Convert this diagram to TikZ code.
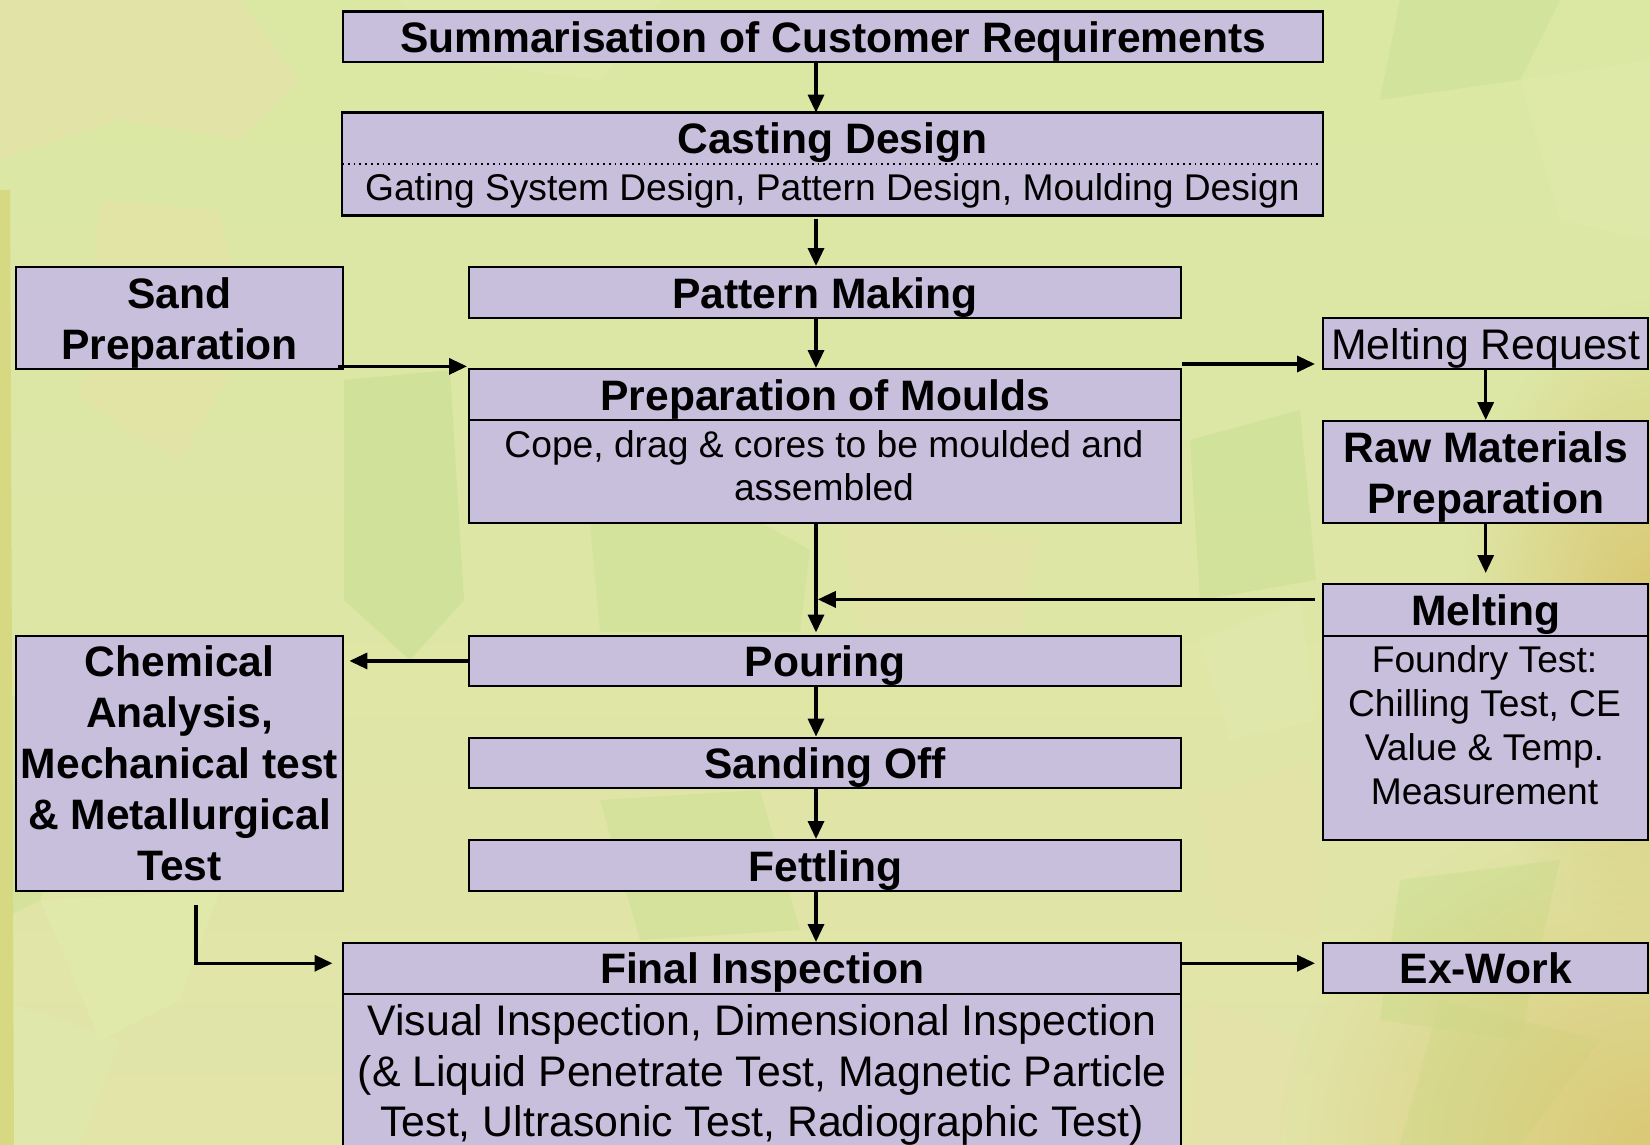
\documentclass[tikz,border=0pt]{standalone}
\usepackage{fontspec}
\setmainfont{Liberation Sans}
\usetikzlibrary{arrows.meta,calc,fadings}
\definecolor{bg}{RGB}{216,230,162}
\definecolor{bgtop}{RGB}{218,232,164}
\definecolor{bgbot}{RGB}{226,228,168}
\definecolor{bgdark}{RGB}{205,225,150}
\definecolor{bglight}{RGB}{224,234,172}
\definecolor{bgyel}{RGB}{230,226,168}
\definecolor{gold}{RGB}{217,198,112}
\definecolor{strip}{RGB}{214,216,130}
\definecolor{boxfill}{RGB}{200,191,221}
\tikzfading[name=fadeC, inner color=transparent!0, outer color=transparent!100]
\tikzset{
  box/.style={draw=black, line width=1.2pt, fill=boxfill, inner sep=0pt, anchor=north west, align=center},
  flat/.style={draw=none, fill=boxfill, inner sep=0pt, anchor=north west, align=center},
  ttl/.style={font=\fontsize{21.3}{25.5}\selectfont\bfseries, text depth=0pt},
  dsc/.style={font=\fontsize{18.6}{21.5}\selectfont},
  dscm/.style={font=\fontsize{18.6}{22}\selectfont},
  dscl/.style={font=\fontsize{21.4}{25.25}\selectfont},
  arr/.style={line width=1.7pt, -{Triangle[length=9pt,width=8pt]}},
}
\begin{document}
\begin{tikzpicture}[x=1pt,y=-1pt]
\useasboundingbox (0,0) rectangle (825,572.5);
% background
\begin{scope}
\clip (0,0) rectangle (825,572.5);
\shade[top color=bgtop, bottom color=bgbot] (0,0) rectangle (825,572.5);
\fill[bgyel, opacity=0.7] (0,0) -- (120,0) -- (150,40) -- (120,70) -- (60,60) -- (0,80) -- cycle;
\fill[bgyel, opacity=0.6] (50,100) -- (110,105) -- (125,170) -- (90,230) -- (40,200) -- cycle;
\fill[bglight, opacity=0.7] (200,0) -- (330,0) -- (300,40) -- (220,30) -- cycle;
\fill[bgdark, opacity=0.8] (172,190) -- (225,185) -- (232,300) -- (205,330) -- (172,300) -- cycle;
\fill[bgdark, opacity=0.6] (295,262) -- (360,250) -- (405,275) -- (400,316) -- (300,316) -- cycle;
\fill[bgyel, opacity=0.6] (420,262) -- (520,268) -- (510,316) -- (430,316) -- cycle;
\fill[bgdark, opacity=0.7] (595,220) -- (650,205) -- (658,290) -- (600,300) -- cycle;
\fill[bglight, opacity=0.7] (600,320) -- (650,300) -- (658,360) -- (615,370) -- cycle;
\fill[bgdark, opacity=0.6] (0,350) -- (60,330) -- (20,450) -- (0,460) -- cycle;
\fill[bglight, opacity=0.7] (20,450) -- (110,445) -- (90,500) -- (50,520) -- cycle;
\fill[bgdark, opacity=0.6] (300,400) -- (380,395) -- (400,465) -- (320,470) -- cycle;
\fill[bgyel, opacity=0.6] (600,400) -- (655,380) -- (658,470) -- (610,460) -- cycle;
\fill[bgdark, opacity=0.6] (700,440) -- (780,430) -- (760,520) -- (690,510) -- cycle;
\fill[bgdark, opacity=0.6] (720,500) -- (800,520) -- (760,572.5) -- (700,572.5) -- cycle;
\fill[bglight, opacity=0.6] (0,500) -- (60,520) -- (40,572.5) -- (0,572.5) -- cycle;
\fill[bgyel, opacity=0.6] (600,500) -- (650,520) -- (640,572.5) -- (595,572.5) -- cycle;
\fill[bgdark, opacity=0.6] (700,0) -- (780,0) -- (760,40) -- (690,50) -- cycle;
\fill[bglight, opacity=0.6] (760,40) -- (825,30) -- (825,120) -- (780,110) -- cycle;
\fill[gold, path fading=fadeC, fit fading=true] (730,150) rectangle (920,470);
\fill[gold, path fading=fadeC, fit fading=true, opacity=0.9] (640,400) rectangle (1010,745);
\fill[strip] (0,95) -- (5,95) -- (7,572.5) -- (0,572.5) -- cycle;
\end{scope}
% boxes
\node[box, ttl, minimum width=490pt, minimum height=25.25pt] (top) at (171,5.25) {Summarisation of Customer Requirements};
\node[flat, ttl, minimum width=490pt, minimum height=25.2pt] (castT) at (171,56.3) {Casting Design};
\node[flat, dsc, text depth=2pt, minimum width=490pt, minimum height=25.85pt] (castD) at (171,81.5) {Gating System Design, Pattern Design, Moulding Design};
\draw[line width=1.2pt] (castT.north west) rectangle (castD.south east);
\draw[dotted, line width=0.9pt] (castT.south west) -- (castT.south east);
\node[box, ttl, minimum width=163.65pt, minimum height=51pt] (sand) at (7.35,133) {Sand\\Preparation};
\node[box, ttl, minimum width=356pt, minimum height=25.5pt] (pattern) at (234,133) {Pattern Making};
\node[box, ttl, minimum width=356pt, minimum height=25.5pt] (mouldT) at (234,184) {Preparation of Moulds};
\node[box, minimum width=356pt, minimum height=51.5pt] (mouldD) at (234,209.5) {};
\node[dsc, align=center, inner sep=0pt] (mouldX) at (412,232.8) {Cope, drag \& cores to be moulded and\\assembled};
\node[box, dscl, text depth=0pt, minimum width=162.5pt, minimum height=25.5pt] (mreq) at (661,158.5) {Melting Request};
\node[box, ttl, minimum width=162.5pt, minimum height=51pt] (raw) at (661,210) {Raw Materials\\Preparation};
\node[box, ttl, minimum width=162.5pt, minimum height=25.75pt] (meltT) at (661,291.5) {Melting};
\node[box, minimum width=162.5pt, minimum height=102.25pt] (meltD) at (661,317.25) {};
\node[dscm, align=center, inner sep=0pt] (meltX) at (742.25,362.5) {Foundry Test:\\Chilling Test, CE\\Value \& Temp.\\Measurement};
\node[box, ttl, minimum width=163.65pt, minimum height=127.75pt] (chem) at (7.35,317.25) {Chemical\\Analysis,\\Mechanical test\\\& Metallurgical\\Test};
\node[box, ttl, minimum width=356pt, minimum height=25.25pt] (pour) at (234,317.25) {Pouring};
\node[box, ttl, minimum width=356pt, minimum height=25.2pt] (sandoff) at (234,368.3) {Sanding Off};
\node[box, ttl, minimum width=356pt, minimum height=25.5pt] (fett) at (234,419.5) {Fettling};
\node[box, ttl, minimum width=419pt, minimum height=25.25pt] (finT) at (171,471) {Final Inspection};
\node[box, dscl, text depth=2pt, minimum width=419pt, minimum height=79pt] (finD) at (171,496.25) {Visual Inspection, Dimensional Inspection\\(\& Liquid Penetrate Test, Magnetic Particle\\Test, Ultrasonic Test, Radiographic Test)};
\node[box, ttl, minimum width=162.5pt, minimum height=25pt] (exw) at (661,471) {Ex-Work};
% connectors
\coordinate (ax) at (408,0);
\draw[arr] (top.south -| ax) -- (castT.north -| ax);
\draw[arr] ($(castD.south -| ax)+(0,1.5)$) -- (pattern.north -| ax);
\draw[arr] (pattern.south -| ax) -- (mouldT.north -| ax);
\draw[arr] (mouldD.south -| ax) -- ($(pour.north -| ax)+(0,-1)$);
\draw[arr] (pour.south -| ax) -- (sandoff.north -| ax);
\draw[arr] (sandoff.south -| ax) -- (fett.north -| ax);
\draw[arr] (fett.south -| ax) -- (finT.north -| ax);
\coordinate (sandA) at ($(sand.south east)+(-3,-2)$);
\draw[arr] (sandA) -- ($(sandA -| mouldT.west)+(-0.5,0)$);
\coordinate (mreqA) at ($(mouldT.north east)+(0,-2)$);
\draw[arr] (mreqA) -- ($(mreqA -| mreq.west)+(-3.5,0)$);
\draw[arr] (mreq.south) -- (raw.north);
\draw[arr, shorten >=5pt] (raw.south) -- (meltT.north);
\coordinate (meltA) at ($(meltT.north west)+(-3.5,8.2)$);
\draw[arr] (meltA) -- ($(meltA -| ax)+(0.9,0)$);
\draw[arr, shorten >=2.5pt] (pour.west) -- (pour.west -| chem.east);
\coordinate (finA) at ($(finT.west)+(-4.75,-2.6)$);
\draw[arr] ($(chem.south west)+(90.65,6.5)$) |- (finA);
\coordinate (exA) at ($(finT.east)+(0,-2.6)$);
\draw[arr] (exA) -- ($(exA -| exw.west)+(-3.5,0)$);
\end{tikzpicture}
\end{document}
